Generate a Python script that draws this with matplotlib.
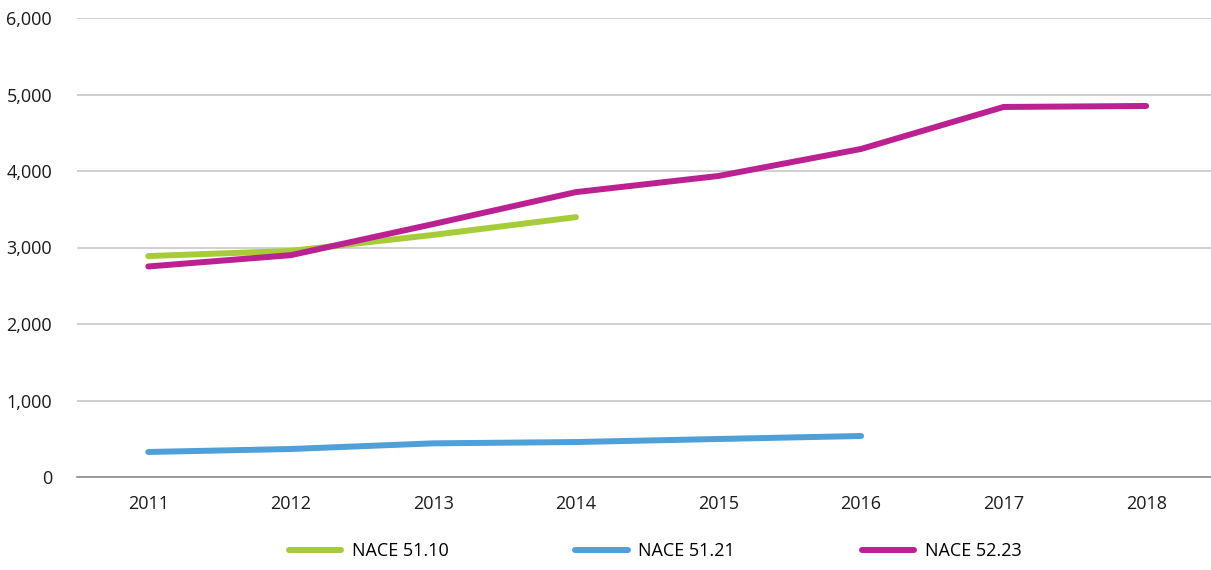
import matplotlib.pyplot as plt
from matplotlib.ticker import FuncFormatter

years = [2011, 2012, 2013, 2014, 2015, 2016, 2017, 2018]
nace_5110 = [2888, 2955, 3165, 3397]
nace_5121 = [327, 366, 440, 457, 497, 536]
nace_5223 = [2752, 2900, 3307, 3724, 3935, 4288, 4837, 4850]

plt.rcParams['font.family'] = ['Open Sans', 'DejaVu Sans']

fig = plt.figure(figsize=(12.11, 5.70), dpi=100)
ax = fig.add_axes([77 / 1211, 93 / 570, 1134 / 1211, 459 / 570])

lw = 4.3
ax.plot(years[:len(nace_5110)], nace_5110, color='#a6cc3a', lw=lw,
        solid_capstyle='round', solid_joinstyle='round', label='NACE 51.10')
ax.plot(years[:len(nace_5121)], nace_5121, color='#4f9fd8', lw=lw,
        solid_capstyle='round', solid_joinstyle='round', label='NACE 51.21')
ax.plot(years, nace_5223, color='#bb2190', lw=lw,
        solid_capstyle='round', solid_joinstyle='round', label='NACE 52.23')

ax.set_xlim(2010.5, 2018.455)
ax.set_ylim(0, 6000)
ax.set_xticks(years)
ax.set_yticks(range(0, 6001, 1000))
ax.yaxis.set_major_formatter(FuncFormatter(lambda v, p: f'{int(v):,}'))
ax.grid(axis='y', color='#c8c8c8', lw=1.2)
ax.set_axisbelow(True)
for s in ['top', 'right', 'left']:
    ax.spines[s].set_visible(False)
ax.spines['bottom'].set_color('#8c8c8c')
ax.spines['bottom'].set_linewidth(1.2)
ax.tick_params(length=0, labelsize=13, colors='#1a1a1a')
ax.tick_params(axis='y', pad=18)
ax.tick_params(axis='x', pad=13)

fig.legend(loc='center', bbox_to_anchor=(0.541, 0.033), ncol=3, frameon=False,
           fontsize=13, handlelength=2.9, columnspacing=7.0, handletextpad=0.6)

fig.savefig('out.png', dpi=100)
